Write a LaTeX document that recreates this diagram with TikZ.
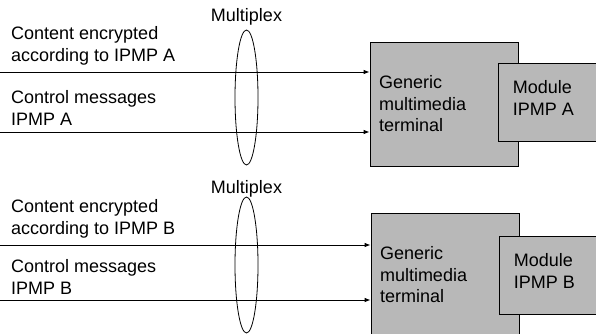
\documentclass[tikz,border=0pt]{standalone}
\usepackage{fontspec}
\setmainfont{Liberation Sans}
\usetikzlibrary{arrows.meta, shapes.geometric}

\tikzset{
  txt/.style={inner sep=0pt, align=left, font=\fontsize{18}{22}\selectfont},
  graybox/.style={draw=black, line width=0.8pt, fill=black!28, align=left,
    font=\fontsize{18}{21.5}\selectfont},
  flow/.style={line width=0.8pt, -{Latex[length=6pt,width=4.5pt]}},
  mux/.style={draw=black, line width=0.8pt, ellipse, inner sep=0pt},
}

\begin{document}
\begin{tikzpicture}[x=1pt, y=-1pt]
\useasboundingbox (0,0) rectangle (596,334);
%\draw[step=10,gray,very thin] (0,0) grid (596,334); %background grid

% upper part, IPMP A
\node[graybox, minimum width=148, minimum height=124, text width=130] (termA) at (444,104) {Generic\\multimedia\\terminal};
\node[graybox, minimum width=98, minimum height=78] (modA) at (547,102) {};
\node[txt, anchor=west] (modtxtA) at ([xshift=15pt,yshift=4.5pt]modA.west) {Module\\IPMP A};
\node[txt, anchor=west] (contA) at (11,46) {Content encrypted\\according to IPMP A};
\node[txt, anchor=west] (ctrlA) at (11,107.5) {Control messages\\IPMP A};
\coordinate (srcA1) at (0,72);
\coordinate (srcA2) at (0,132);
\draw[flow] (srcA1) -- (srcA1 -| termA.west);
\draw[flow] (srcA2) -- (srcA2 -| termA.west);
\node[mux, minimum width=23, minimum height=135] (muxA) at (246.5,97.5) {};
\node[txt] (muxlabA) at (246.5,17) {Multiplex};

% lower part, IPMP B
\node[graybox, minimum width=148, minimum height=124, text width=130] (termB) at (445,275) {Generic\\multimedia\\terminal};
\node[graybox, minimum width=98, minimum height=78] (modB) at (548,275) {};
\node[txt, anchor=west] (modtxtB) at ([xshift=15pt,yshift=4.5pt]modB.west) {Module\\IPMP B};
\node[txt, anchor=west] (contB) at (11,218.5) {Content encrypted\\according to IPMP B};
\node[txt, anchor=west] (ctrlB) at (11,277) {Control messages\\IPMP B};
\coordinate (srcB1) at (0,245);
\coordinate (srcB2) at (0,300);
\draw[flow] (srcB1) -- (srcB1 -| termB.west);
\draw[flow] (srcB2) -- (srcB2 -| termB.west);
\node[mux, minimum width=23, minimum height=136] (muxB) at (246.5,265) {};
\node[txt] (muxlabB) at (246.5,189) {Multiplex};
\end{tikzpicture}
\end{document}
